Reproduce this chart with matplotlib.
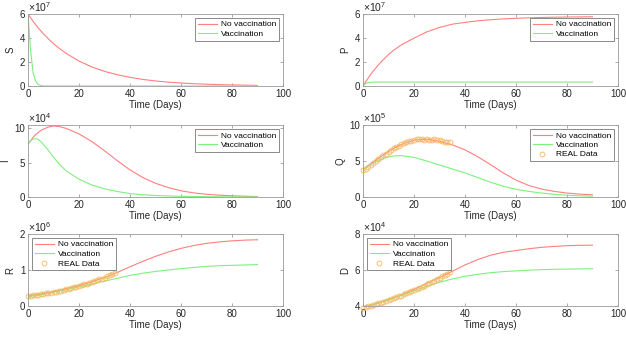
import numpy as np
import matplotlib.pyplot as plt
from matplotlib.ticker import FuncFormatter

plt.rcParams['font.family'] = ['Liberation Sans', 'DejaVu Sans']
plt.rcParams['mathtext.fontset'] = 'custom'
plt.rcParams['mathtext.rm'] = 'Liberation Sans'
plt.rcParams['mathtext.it'] = 'Liberation Sans'

# time grid of model curves (days)
t = [0, 1, 2, 3, 4, 5, 6, 8, 10, 12, 15, 20, 25, 30, 35, 40, 45, 50, 55, 60, 65, 70, 75, 80, 85, 90]
# time of real data points
t_real = list(range(35))

# S (x1e7)
S_nov = [6.0, 5.69, 5.39, 5.11, 4.85, 4.60, 4.36, 3.93, 3.53, 3.18, 2.71, 2.08, 1.59, 1.22, 0.94, 0.72,
         0.55, 0.42, 0.32, 0.25, 0.19, 0.15, 0.11, 0.09, 0.07, 0.05]
S_vac = [6.0, 3.0, 1.1, 0.4, 0.12, 0.04, 0.01, 0, 0, 0, 0, 0, 0, 0, 0, 0, 0, 0, 0, 0, 0, 0, 0, 0, 0, 0]

# P (x1e7)
P_nov = [0, 0.34, 0.65, 0.95, 1.24, 1.50, 1.75, 2.2, 2.62, 2.98, 3.42, 3.99, 4.51, 4.88, 5.15, 5.30,
         5.43, 5.52, 5.59, 5.64, 5.68, 5.71, 5.73, 5.75, 5.76, 5.77]
P_vac = [0, 0.2, 0.28, 0.31, 0.32, 0.33, 0.33, 0.33, 0.33, 0.33, 0.33, 0.33, 0.33, 0.33, 0.33, 0.33,
         0.33, 0.33, 0.33, 0.33, 0.33, 0.33, 0.33, 0.33, 0.33, 0.33]

# I (x1e4)
I_nov = [7.7, 8.2, 8.7, 9.1, 9.4, 9.7, 9.9, 10.2, 10.35, 10.3, 10.0, 9.2, 8.1, 6.75, 5.3, 3.95,
         2.85, 2.0, 1.38, 0.9, 0.6, 0.4, 0.27, 0.18, 0.11, 0.07]
I_vac = [7.7, 8.2, 8.45, 8.5, 8.4, 8.1, 7.7, 6.8, 5.8, 4.9, 3.8, 2.6, 1.75, 1.2, 0.8, 0.5,
         0.33, 0.22, 0.15, 0.1, 0.07, 0.05, 0.03, 0.02, 0.01, 0.01]

# Q (x1e5)
Q_nov = [3.8, 4.1, 4.35, 4.6, 4.85, 5.1, 5.35, 5.85, 6.3, 6.75, 7.3, 7.9, 8.0, 7.75, 7.25, 6.55,
         5.6, 4.5, 3.35, 2.35, 1.6, 1.1, 0.78, 0.55, 0.4, 0.3]
Q_vac = [3.8, 4.05, 4.3, 4.5, 4.7, 4.9, 5.05, 5.35, 5.55, 5.7, 5.75, 5.5, 5.0, 4.45, 3.9, 3.35,
         2.7, 2.05, 1.5, 1.07, 0.78, 0.55, 0.38, 0.25, 0.17, 0.12]
Q_real = [3.7, 3.95, 4.2, 4.45, 4.7, 5.0, 5.3, 5.5, 5.8, 6.0, 6.25, 6.5, 6.75, 6.95, 7.1, 7.3, 7.45, 7.6,
          7.75, 7.8, 7.95, 8.05, 8.0, 8.0, 7.95, 8.0, 7.9, 7.95, 8.0, 7.9, 7.85, 7.75, 7.7, 7.6, 7.6]

# R (x1e6)
R_nov = [0.28, 0.29, 0.30, 0.31, 0.32, 0.33, 0.345, 0.37, 0.40, 0.43, 0.48, 0.57, 0.67, 0.79, 0.93, 1.09,
         1.24, 1.38, 1.50, 1.60, 1.68, 1.74, 1.78, 1.81, 1.83, 1.84]
R_vac = [0.26, 0.27, 0.28, 0.29, 0.30, 0.31, 0.32, 0.35, 0.38, 0.41, 0.45, 0.53, 0.61, 0.69, 0.77, 0.85,
         0.91, 0.96, 1.0, 1.04, 1.07, 1.10, 1.12, 1.13, 1.14, 1.15]
R_real = [0.28, 0.29, 0.30, 0.31, 0.31, 0.32, 0.33, 0.35, 0.36, 0.37, 0.38, 0.40, 0.41, 0.42, 0.44, 0.46,
          0.48, 0.50, 0.52, 0.54, 0.56, 0.58, 0.60, 0.62, 0.64, 0.67, 0.69, 0.71, 0.74, 0.76, 0.79, 0.82,
          0.85, 0.88, 0.91]

# D (x1e4)
D_nov = [3.92, 3.96, 4.0, 4.04, 4.08, 4.12, 4.17, 4.26, 4.35, 4.45, 4.6, 4.92, 5.25, 5.58, 5.93, 6.28,
         6.58, 6.82, 6.98, 7.08, 7.18, 7.26, 7.31, 7.35, 7.37, 7.38]
D_vac = [3.92, 3.96, 4.0, 4.04, 4.08, 4.12, 4.17, 4.26, 4.35, 4.44, 4.58, 4.85, 5.1, 5.32, 5.5, 5.65,
         5.76, 5.85, 5.91, 5.95, 5.99, 6.02, 6.04, 6.05, 6.06, 6.07]
D_real = [3.9, 3.95, 3.98, 4.02, 4.06, 4.1, 4.14, 4.18, 4.23, 4.28, 4.33, 4.38, 4.43, 4.48, 4.53, 4.58,
          4.64, 4.7, 4.76, 4.82, 4.88, 4.94, 5.0, 5.06, 5.12, 5.2, 5.27, 5.34, 5.41, 5.48, 5.56, 5.64,
          5.72, 5.8, 5.9]

red = "#ff7f7f"
green = "#7fef7f"
marker_col = "#f4b860"
frame = "#9a9a9a"
txt = "#262626"

# name, exponent, no vaccination, vaccination, real data, ylim, yticks, legend location
panels = [
    ("S", 7, S_nov, S_vac, None, (0, 6), [0, 2, 4, 6], "upper right"),
    ("P", 7, P_nov, P_vac, None, (0, 6), [0, 2, 4, 6], "upper right"),
    ("I", 4, I_nov, I_vac, None, (0, 10.5), [0, 5, 10], "upper right"),
    ("Q", 5, Q_nov, Q_vac, Q_real, (0, 10), [0, 5, 10], "upper right"),
    ("R", 6, R_nov, R_vac, R_real, (0, 2), [0, 1, 2], "upper left"),
    ("D", 4, D_nov, D_vac, D_real, (4, 8), [4, 6, 8], "upper left"),
]

fig = plt.figure(figsize=(6.26, 3.4), dpi=100)
lefts = [28 / 626, 363 / 626]
bottoms = [1 - 86 / 340, 1 - 197 / 340, 1 - 306 / 340]
w = 255 / 626
h = 72 / 340

for i, (name, ex, nov, vac, real, ylim, yt, loc) in enumerate(panels):
    scale = 10.0 ** ex
    ax = fig.add_axes([lefts[i % 2], bottoms[i // 2], w, h])
    ax.plot(t, np.array(nov) * scale, color=red, lw=0.8, label="No vaccination")
    ax.plot(t, np.array(vac) * scale, color=green, lw=0.8, label="Vaccination")
    if real is not None:
        ax.plot(t_real, np.array(real) * scale, 'o', mfc='none', mec=marker_col, ms=3.5, mew=0.6,
                label="REAL Data", clip_on=False)
    ax.set_xlim(0, 100)
    ax.set_ylim(ylim[0] * scale, ylim[1] * scale)
    ax.set_yticks(np.array(yt) * scale)
    ax.set_xticks([0, 20, 40, 60, 80, 100])
    ax.yaxis.set_major_formatter(FuncFormatter(lambda v, p, s=scale: "%g" % round(v / s, 6)))
    ax.text(0.0, 1.0, r"$\times10^{%d}$" % ex, transform=ax.transAxes, ha='left', va='bottom',
            fontsize=7.5, color=txt)
    ax.tick_params(direction='in', top=True, right=True, length=2.5, width=0.6,
                   labelsize=7, colors=frame, labelcolor=txt, pad=2)
    for sp in ax.spines.values():
        sp.set_color(frame)
        sp.set_linewidth(0.6)
    ax.set_xlabel("Time (Days)", fontsize=7, color=txt, labelpad=1)
    ax.set_ylabel(name, fontsize=7, color=txt, labelpad=3)
    leg = ax.legend(loc=loc, fontsize=6, frameon=True, fancybox=False, handlelength=2.3,
                    labelspacing=0.2, borderpad=0.3, handletextpad=0.5, borderaxespad=0.5)
    leg.get_frame().set_edgecolor("#555555")
    leg.get_frame().set_linewidth(0.6)

plt.savefig("out.png", dpi=100)
